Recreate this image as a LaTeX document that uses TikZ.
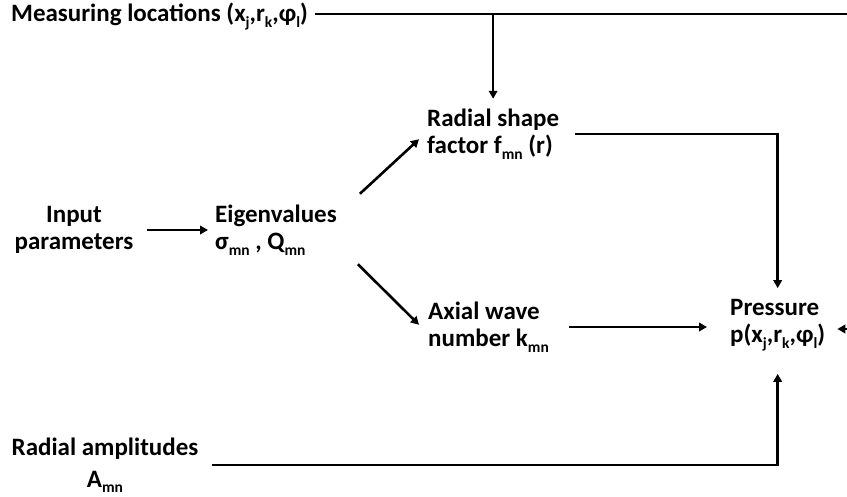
\documentclass[tikz,border=0pt]{standalone}
\usepackage{fontspec}
\setmainfont{Carlito}
\usepackage{tikz}
\usetikzlibrary{arrows.meta,calc}

\newcommand{\lowidx}[1]{\raisebox{-0.22em}{\fontsize{15.5}{15.5}\selectfont #1}}

\begin{document}
\begin{tikzpicture}[x=1pt,y=-1pt,font=\fontsize{25}{27}\selectfont\bfseries,
        lbl/.style={inner sep=0pt,align=left},
        line/.style={line width=2.6pt},
        arr/.style={line width=2.6pt,-{Triangle[length=8pt,width=8.5pt]}}]
    \useasboundingbox (0,0) rectangle (847,497);
    % labels
    \node[lbl,anchor=base west] (meas) at (11,22) {Measuring locations (x\lowidx{j},r\lowidx{k},φ\lowidx{l})};
    \node[lbl,align=center] (input) at (74,230) {Input\\parameters};
    \node[lbl,anchor=west] (eig) at (215,230) {Eigenvalues\\σ\lowidx{mn} , Q\lowidx{mn}};
    \node[lbl,anchor=west] (rad) at (427,134) {Radial shape\\factor f\lowidx{mn} (r)};
    \node[lbl,anchor=west] (axial) at (428,327) {Axial wave\\number k\lowidx{mn}};
    \node[lbl,anchor=west] (press) at (730,325) {Pressure\\p(x\lowidx{j},r\lowidx{k},φ\lowidx{l})};
    \node[lbl,align=center] (amp) at (105,465) {Radial amplitudes\\[5pt]A\lowidx{mn}};
    \coordinate (topR) at (847,14);
    \coordinate (sideR) at (847,329);
    % connectors
    \draw[line,shorten <=7pt] (meas.east |- topR) -- (topR);
    \draw[arr,shorten >=10pt] (rad.north |- topR) -- (rad.north);
    \draw[arr,shorten <=13pt,shorten >=7pt] (input.east) -- (eig.west);
    \draw[arr] ([shift={(23,-11)}]eig.north east) -- ([shift={(-8,-20)}]rad.south west);
    \draw[arr] ([shift={(21,9)}]eig.south east) -- ([shift={(-9,23)}]axial.north west);
    \draw[arr,shorten <=16pt,shorten >=11pt] (rad.east) -| (press.north);
    \draw[arr,shorten <=20pt,shorten >=23pt] (axial.east) -- (axial.east -| press.west);
    \draw[arr,shorten >=12pt] (sideR) -- (sideR -| press.east);
    \draw[arr,shorten <=14pt,shorten >=23pt] (amp.east) -| (press.south);
\end{tikzpicture}
\end{document}
